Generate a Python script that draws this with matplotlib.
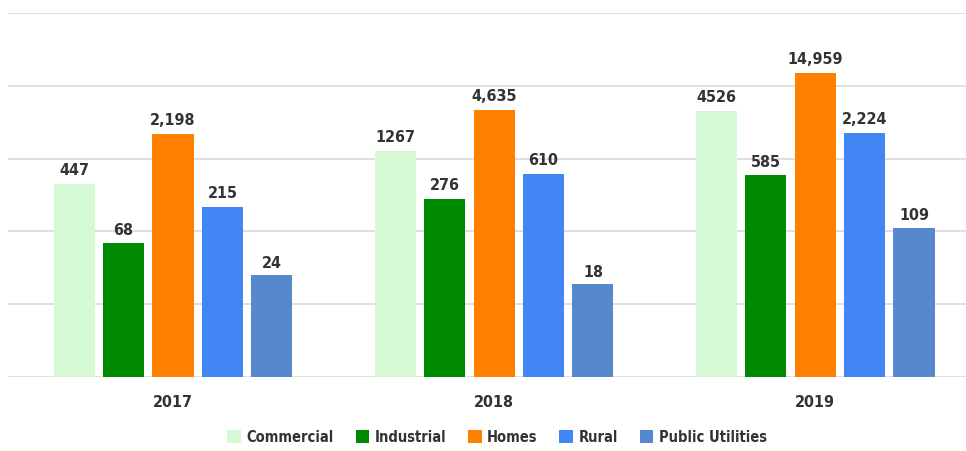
import matplotlib
matplotlib.use("Agg")
import matplotlib.pyplot as plt
import numpy as np

years = ["2017", "2018", "2019"]
series = ["Commercial", "Industrial", "Homes", "Rural", "Public Utilities"]
commercial = [447, 1267, 4526]
industrial = [68, 276, 585]
homes = [2198, 4635, 14959]
rural = [215, 610, 2224]
public_utilities = [24, 18, 109]
labels = [
    ["447", "1267", "4526"],
    ["68", "276", "585"],
    ["2,198", "4,635", "14,959"],
    ["215", "610", "2,224"],
    ["24", "18", "109"],
]
colors = ["#d4f9d4", "#008a00", "#ff7f00", "#4285f4", "#5588cc"]

plt.rcParams['font.family'] = ['DejaVu Sans']
plt.rcParams['font.stretch'] = 'condensed'

fig = plt.figure(figsize=(9.66, 4.52), dpi=100)
ax = fig.add_axes([8/966, 74/452, 958/966, 364/452])

data = [commercial, industrial, homes, rural, public_utilities]
x = np.arange(len(years))
step = 0.154
width = 0.128
for i, (name, vals) in enumerate(zip(series, data)):
    pos = x + (i - 2) * step
    ax.bar(pos, vals, width, color=colors[i], label=name, bottom=1, zorder=3)
    for p, v, t in zip(pos, vals, labels[i]):
        ax.annotate(t, (p, v), xytext=(0, 5), textcoords="offset points",
                    ha="center", va="bottom", fontsize=11.5, fontweight="bold",
                    color="#333333")

ax.set_yscale("log")
ax.set_ylim(1, 1e5)
ax.set_xlim(-0.514, 2.47)
ax.set_yticks([1, 10, 100, 1000, 10000, 100000])
ax.yaxis.set_major_formatter(matplotlib.ticker.NullFormatter())
ax.yaxis.set_minor_locator(matplotlib.ticker.NullLocator())
ax.grid(axis="y", color="#d9d9d9", linewidth=1.2, zorder=0)
ax.tick_params(axis="y", length=0)
ax.tick_params(axis="x", length=0, pad=12, labelsize=11.5, labelcolor="#333333")
ax.set_xticks(x)
ax.set_xticklabels(years, fontweight="bold")
for s in ax.spines.values():
    s.set_visible(False)

leg = fig.legend(loc="center", bbox_to_anchor=(497/966, 1 - 438/452), ncol=5,
                 frameon=False, handlelength=0.95, handleheight=0.95,
                 handletextpad=0.35, columnspacing=1.5,
                 prop={"size": 10.5, "weight": "bold"})
for t in leg.get_texts():
    t.set_color("#333333")

fig.savefig("out.png", dpi=100)
